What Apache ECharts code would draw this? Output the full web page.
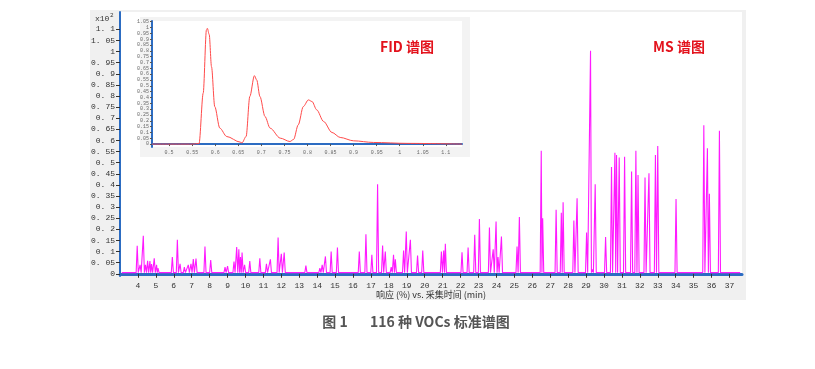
<!DOCTYPE html>
<html><head><meta charset="utf-8">
<script src="https://cdn.jsdelivr.net/npm/echarts@6/dist/echarts.min.js"></script>
<style>html,body{margin:0;padding:0;background:#fff}#c{width:815px;height:369px}</style>
</head><body><div id="c"></div>
<script>
// MS chromatogram: peak apex retention times (min) and responses (x10^8)
const msPeakTimes = [3.96,4.12,4.3,4.42,4.54,4.67,4.76,4.91,5.04,5.12,
  5.92,6.2,6.35,6.59,6.81,6.96,7.09,7.24,7.74,8.06,
  8.86,9.0,9.36,9.51,9.63,9.72,9.81,9.95,10.24,10.8,11.17,11.39,11.82,12.0,12.16,13.37,14.15,14.28,14.46,14.78,15.13,
  16.35,16.72,17.05,17.37,17.65,17.8,18.13,18.26,18.36,18.82,18.97,19.2,19.6,19.89,20.93,21.06,21.15,
  22.08,22.42,22.79,23.05,23.61,23.82,23.98,24.09,24.28,25.15,25.28,26.5,26.58,27.33,27.62,27.72,
  28.32,28.5,29.03,29.25,29.35,29.51,30.09,30.42,30.61,30.7,30.85,31.15,31.54,31.78,31.9,32.29,32.51,32.87,33.0,
  34.02,35.57,35.77,35.88,36.44];
const msPeakHeights = [0.126,0.04,0.171,0.04,0.058,0.057,0.044,0.07,0.04,0.025,
  0.075,0.153,0.045,0.03,0.04,0.045,0.066,0.068,0.123,0.062,
  0.03,0.035,0.055,0.12,0.11,0.075,0.096,0.04,0.057,0.07,0.045,0.065,0.163,0.09,0.096,0.037,0.025,0.04,0.078,0.1,0.118,
  0.1,0.178,0.085,0.403,0.127,0.1,0.03,0.085,0.065,0.105,0.19,0.153,0.082,0.105,0.1,0.105,0.135,
  0.097,0.118,0.175,0.247,0.208,0.11,0.235,0.075,0.168,0.123,0.255,0.554,0.25,0.288,0.275,0.322,
  0.24,0.34,0.186,1.004,0.02,0.403,0.165,0.48,0.545,0.535,0.523,0.527,0.46,0.554,0.445,0.433,0.452,0.535,0.575,
  0.336,0.668,0.565,0.36,0.644];
const msBaseline = 0.005;
const msStart = 3.1, msEnd = 37.6;
const msYTicks = [0,0.05,0.1,0.15,0.2,0.25,0.3,0.35,0.4,0.45,0.5,0.55,0.6,0.65,0.7,0.75,0.8,0.85,0.9,0.95,1,1.05,1.1];
const msXTicks = [4,5,6,7,8,9,10,11,12,13,14,15,16,17,18,19,20,21,22,23,24,25,26,27,28,29,30,31,32,33,34,35,36,37];

// FID inset chromatogram
const fidTime = [0.463,0.55,0.565,0.574,0.581,0.583,0.587,0.592,0.599,0.61,0.625,0.654,0.658,0.667,0.675,0.685,0.69,0.697,0.708,0.719,0.741,0.762,0.77,0.78,0.791,0.802,0.81,0.82,0.835,0.853,0.871,0.9,0.943,1.016,1.135];
const fidSignal = [0.0,0.0,0.005,0.437,0.979,0.993,0.94,0.664,0.322,0.137,0.065,0.017,0.01,0.065,0.408,0.587,0.55,0.408,0.236,0.137,0.051,0.022,0.04,0.165,0.322,0.379,0.365,0.294,0.194,0.1,0.057,0.028,0.014,0.006,0.0];
const fidXTicks = [0.5,0.55,0.6,0.65,0.7,0.75,0.8,0.85,0.9,0.95,1,1.05,1.1];
const fidYTicks = [0,0.05,0.1,0.15,0.2,0.25,0.3,0.35,0.4,0.45,0.5,0.55,0.6,0.65,0.7,0.75,0.8,0.85,0.9,0.95,1,1.05];

// build MS trace from peaks
const halfW = 0.06;
const msData = [[msStart, msBaseline]];
for (let i = 0; i < msPeakTimes.length; i++) {
  const t = msPeakTimes[i], h = msPeakHeights[i];
  const prev = i > 0 ? msPeakTimes[i-1] : -1e9;
  const next = i < msPeakTimes.length - 1 ? msPeakTimes[i+1] : 1e9;
  const l = Math.max(t - halfW, (prev + t) / 2);
  const r = Math.min(t + halfW, (t + next) / 2);
  if (msData[msData.length-1][0] < l) msData.push([l, msBaseline]);
  msData.push([t, h]);
  msData.push([r, msBaseline]);
}
msData.push([msEnd, msBaseline]);
const fidData = fidTime.map((t, i) => [t, fidSignal[i]]);

const mono = 'Liberation Mono';
const chart = echarts.init(document.getElementById('c'), null, {renderer: 'canvas'});
chart.setOption({
  animation: false,
  backgroundColor: '#ffffff',
  grid: [
    {left: 120, right: 73, top: 12, bottom: 93, show: true, backgroundColor: '#ffffff', borderWidth: 0, z: 0},
    {left: 152, right: 353, top: 21, bottom: 222, show: true, backgroundColor: '#ffffff', borderWidth: 0, z: 3}
  ],
  xAxis: [
    {type: 'value', gridIndex: 0, min: 3, max: 37.7,
     axisLine: {show: true, lineStyle: {color: '#2c6cc2', width: 3}},
     axisTick: {show: true, length: 4, customValues: msXTicks, lineStyle: {color: '#333'}},
     axisLabel: {customValues: msXTicks, fontSize: 8, fontFamily: mono, color: '#333', margin: 6},
     splitLine: {show: false}},
    {type: 'value', gridIndex: 1, min: 0.463, max: 1.135, z: 4,
     axisLine: {show: true, lineStyle: {color: '#2c6cc2', width: 2}},
     axisTick: {show: true, length: 2, customValues: fidXTicks, lineStyle: {color: '#555'}},
     axisLabel: {customValues: fidXTicks, fontSize: 5, fontFamily: mono, color: '#666', margin: 3},
     splitLine: {show: false}}
  ],
  yAxis: [
    {type: 'value', gridIndex: 0, min: -0.01, max: 1.178,
     axisLine: {show: true, lineStyle: {color: '#2c6cc2', width: 2}},
     axisTick: {show: true, length: 4, customValues: msYTicks, lineStyle: {color: '#333'}},
     axisLabel: {customValues: msYTicks, fontSize: 8, fontFamily: mono, color: '#333', margin: 5,
       formatter: v => String(+v.toFixed(2)).replace('.', '. ')},
     splitLine: {show: false}},
    {type: 'value', gridIndex: 1, min: -0.025, max: 1.056, z: 4,
     axisLine: {show: true, lineStyle: {color: '#2c6cc2', width: 2}},
     axisTick: {show: true, length: 2, customValues: fidYTicks, lineStyle: {color: '#555'}},
     axisLabel: {customValues: fidYTicks, fontSize: 5, fontFamily: mono, color: '#666', margin: 3,
       formatter: v => String(+v.toFixed(2))},
     splitLine: {show: false}}
  ],
  series: [
    {type: 'line', xAxisIndex: 0, yAxisIndex: 0, data: msData, showSymbol: false,
     lineStyle: {color: '#ff1aff', width: 1.1}, z: 2},
    {type: 'line', xAxisIndex: 1, yAxisIndex: 1, data: fidData, showSymbol: false,
     smooth: 0.3, smoothMonotone: 'x', lineStyle: {color: '#ff4a4a', width: 1}, z: 5}
  ],
  graphic: [
    {type: 'rect', shape: {x: 90, y: 10, width: 656, height: 290}, style: {fill: '#f0f0f0'}, z: -10, silent: true},
    {type: 'rect', shape: {x: 140, y: 17, width: 330, height: 140}, style: {fill: '#f3f3f3'}, z: 1, silent: true},
    {type: 'text', x: 95, y: 15, style: {text: 'x10', font: '8px "Liberation Mono"', fill: '#333'}, z: 10},
    {type: 'text', x: 110, y: 12, style: {text: '2', font: '6px "Liberation Mono"', fill: '#333'}, z: 10},
    {type: 'text', x: 407, y: 46.5, style: {text: 'FID 谱图', font: 'bold 14px "Noto Sans CJK SC"', fill: '#e3121c', align: 'center', verticalAlign: 'middle'}, z: 10},
    {type: 'text', x: 679, y: 47, style: {text: 'MS 谱图', font: 'bold 14px "Noto Sans CJK SC"', fill: '#e3121c', align: 'center', verticalAlign: 'middle'}, z: 10},
    {type: 'text', x: 431, y: 295, style: {text: '响应 (%) vs. 采集时间 (min)', font: '9px "Noto Sans CJK SC"', fill: '#333', align: 'center', verticalAlign: 'middle'}, z: 10},
    {type: 'text', x: 416, y: 322, style: {text: '图 1       116 种 VOCs 标准谱图', font: 'bold 14px "Noto Sans CJK SC"', fill: '#555', align: 'center', verticalAlign: 'middle'}, z: 10}
  ]
});
</script></body></html>
